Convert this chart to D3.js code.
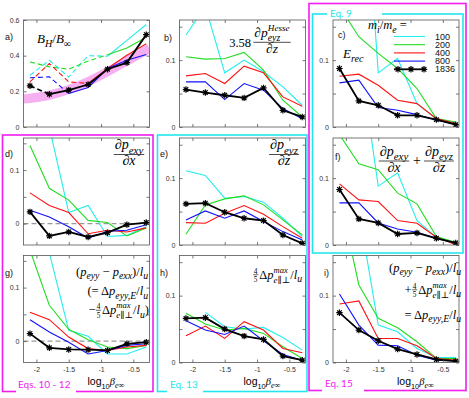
<!DOCTYPE html>
<html>
<head>
<style>
body { margin: 0; background: #fff; }
svg { display: block; }
svg text { white-space: pre; }
</style>
</head>
<body>
<svg id="chart" width="469" height="398"></svg>
<script src="https://d3js.org/d3.v7.min.js"></script>
<script>
// x values: log10(beta_e_inf) for beta = 0.008 ... 0.512
var logBeta = [-2.1, -1.8, -1.5, -1.2, -0.9, -0.6, -0.3];
var massRatios = ['100', '200', '400', '800', '1836'];
var seriesColors = ['#22eeee', '#22dd22', '#ff1111', '#1111ff', '#000000'];

// each panel: rows = 100, 200, 400, 800, 1836
var bhRatio = [
    [0.29, 0.374, 0.28, 0.40, 0.397, 0.486, 0.575],
    [0.365, 0.337, 0.324, 0.37, 0.405, 0.443, 0.503],
    [0.253, 0.356, 0.253, 0.244, 0.328, 0.402, 0.467],
    [0.276, 0.281, 0.188, 0.222, 0.328, 0.374, 0.406],
    [0.231, 0.184, 0.207, 0.238, 0.324, 0.361, 0.518]
];
var dashedUntil = [4, 4, 3, 2, 1];   // panel a: dashed up to this point index
var bandX = [-2.2, -1.8, -1.5, -1.2, -0.9, -0.6, -0.25];
var bandY = [0.157, 0.178, 0.21, 0.255, 0.31, 0.37, 0.44];

var hesseTerm = [
    [0.1375, 0.18, 0.081, 0.1, 0.0825, 0.06, 0.0325],
    [0.105, 0.1015, 0.1025, 0.1115, 0.085, 0.04, 0.015],
    [0.0765, 0.08, 0.065, 0.091, 0.081, 0.045, 0.031],
    [0.0675, 0.0675, 0.041, 0.065, 0.055, 0.0275, 0.0125],
    [0.056, 0.0515, 0.0475, 0.0435, 0.0585, 0.025, 0.015]
];
var eRec = [
    [0.45, 0.5, 0.081, 0.1025, 0.035, 0.0125, 0.006],
    [0.18, 0.135, 0.11, 0.0875, 0.0575, 0.0125, 0.0075],
    [0.076, 0.079, 0.0625, 0.04, 0.035, 0.0125, 0.005],
    [0.066, 0.07, 0.029, 0.025, 0.0185, 0.01, 0.004],
    [0.0875, 0.039, 0.0325, 0.0175, 0.0175, 0.011, 0.0035]
];
var dPexyDx = [
    [0.3, 0.18, 0.0206, 0.034, -0.024, -0.022, -0.006],
    [0.146, 0.066, 0.044, 0.006, 0.002, -0.023, -0.008],
    [0.0575, 0.034, 0.0206, -0.019, -0.0125, -0.0156, -0.008],
    [0.025, 0.0125, -0.006, -0.027, -0.0144, -0.0125, -0.002],
    [0.022, -0.023, -0.0156, -0.025, -0.017, -0.002, 0.002]
];
var dPeyzDz = [
    [0.111, 0.104, 0.07, 0.0725, 0.064, 0.04, 0.0125],
    [0.016, 0.06, 0.069, 0.0735, 0.06, 0.0375, 0.015],
    [0.0335, 0.0325, 0.0475, 0.059, 0.046, 0.0275, 0.01],
    [0.0375, 0.051, 0.04, 0.051, 0.035, 0.02, 0.0075],
    [0.0615, 0.0625, 0.049, 0.04, 0.0365, 0.015, 0.0025]
];
var divSum = [
    [0.35, 0.29, 0.088, 0.108, 0.0365, 0.0115, 0.0015],
    [0.165, 0.1215, 0.1125, 0.0775, 0.0615, 0.0125, 0.004],
    [0.0915, 0.0675, 0.065, 0.0365, 0.0325, 0.0115, 0.0005],
    [0.063, 0.063, 0.033, 0.024, 0.019, 0.01, 0.003],
    [0.083, 0.039, 0.033, 0.0165, 0.018, 0.01, 0.003]
];
var anisoDiff = [
    [0.3, 0.165, 0.02, 0.009, -0.024, -0.024, -0.011],
    [0.17, 0.067, 0.022, 0.0025, -0.011, -0.014, -0.008],
    [0.054, 0.04, 0.0075, -0.014, -0.0175, -0.011, -0.008],
    [0.04, 0.017, -0.002, -0.024, -0.0175, -0.008, -0.005],
    [0.014, -0.0125, -0.0156, -0.016, -0.0175, -0.005, -0.002]
];
var maxAniso = [
    [null, 0.075, 0.0535, 0.05, 0.0525, 0.0375, 0.0185],
    [0.0735, 0.0575, 0.0485, 0.051, 0.0435, 0.0235, 0.006],
    [0.04, 0.0545, 0.036, 0.061, 0.0485, 0.021, 0.0145],
    [0.0625, 0.0485, 0.042, 0.0545, 0.0325, 0.012, 0.0035],
    [0.066, 0.067, 0.05, 0.0395, 0.0345, 0.0095, 0.0035]
];
var pressureE = [
    [0.3, 0.227, 0.056, 0.046, 0.021, 0.0075, 0.0075],
    [0.25, 0.116, 0.066, 0.052, 0.031, 0.006, 0.006],
    [0.0875, 0.092, 0.036, 0.036, 0.025, 0.006, 0.0035],
    [0.1025, 0.056, 0.026, 0.025, 0.011, 0.0035, 0.0025],
    [0.0745, 0.0485, 0.0325, 0.02, 0.012, 0.0045, 0.002]
];

var xTicks = [-2, -1.5, -1, -0.5];
var xTickLabels = ['-2', '-1.5', '-1', '-0.5'];
var yTicksA = [0, 0.2, 0.4, 0.6];
var yTickLabelsA = ['0', '0.2', '0.4', '0.6'];
var yTicksS = [0, 0.05, 0.1, 0.15];
var yTickLabelsS = ['0', '', '0.1', ''];

//layout
var svg = d3.select('#chart');
var W = 126, H = 107;
var colLeft = [23.5, 179.5, 333];
var rowTop = [20, 138, 255.5];
var xDomain = [-2.2, -0.25];
var SANS = '"Liberation Sans", Arial, sans-serif';
var SERIF = '"Liberation Serif", "DejaVu Serif", serif';
var PINK = '#f01cf0', CYAN = '#22e6ee';
var starPath = 'M-3.2,0H3.2M0,-3.2V3.2M-2.3,-2.3L2.3,2.3M-2.3,2.3L2.3,-2.3';

var panels = [
    {key: 'a', vals: bhRatio, col: 0, row: 0, yDom: [0, 0.6], yt: yTicksA, yl: yTickLabelsA, letter: [5, 40]},
    {key: 'b', vals: hesseTerm, col: 1, row: 0, yDom: [0, 0.16], yt: yTicksS, yl: yTickLabelsS, letter: [164, 41]},
    {key: 'c', vals: eRec, col: 2, row: 0, yDom: [0, 0.16], yt: yTicksS, yl: yTickLabelsS, letter: [338, 38]},
    {key: 'd', vals: dPexyDx, col: 0, row: 1, yDom: [-0.04, 0.16], yt: yTicksS, yl: yTickLabelsS, letter: [5, 157], zero: true},
    {key: 'e', vals: dPeyzDz, col: 1, row: 1, yDom: [0, 0.16], yt: yTicksS, yl: yTickLabelsS, letter: [160, 157]},
    {key: 'f', vals: divSum, col: 2, row: 1, yDom: [0, 0.16], yt: yTicksS, yl: yTickLabelsS, letter: [335, 160]},
    {key: 'g', vals: anisoDiff, col: 0, row: 2, yDom: [-0.04, 0.16], yt: yTicksS, yl: yTickLabelsS, letter: [5, 276], zero: true},
    {key: 'h', vals: maxAniso, col: 1, row: 2, yDom: [0, 0.16], yt: yTicksS, yl: yTickLabelsS, letter: [160, 276]},
    {key: 'i', vals: pressureE, col: 2, row: 2, yDom: [0, 0.16], yt: yTicksS, yl: yTickLabelsS, letter: [324, 276]}
];

var defs = svg.append('defs');

panels.forEach(function(p) {
    var left = colLeft[p.col], top = rowTop[p.row];
    var x = d3.scaleLinear().domain(xDomain).range([left, left + W]);
    var y = d3.scaleLinear().domain(p.yDom).range([top + H, top]);
    var g = svg.append('g').attr('class', 'panel-' + p.key);

    defs.append('clipPath').attr('id', 'clip-' + p.key)
        .append('rect').attr('x', left).attr('y', top).attr('width', W).attr('height', H);
    var plot = g.append('g').attr('clip-path', 'url(#clip-' + p.key + ')');

    var line = d3.line()
        .defined(function(d) { return d[1] != null; })
        .x(function(d) { return x(d[0]); })
        .y(function(d) { return y(d[1]); });

    if (p.key == 'a') {
        plot.append('path')
            .datum(d3.zip(bandX, bandY))
            .attr('d', d3.line().x(function(d) { return x(d[0]); }).y(function(d) { return y(d[1]); }).curve(d3.curveMonotoneX))
            .attr('fill', 'none').attr('stroke', '#f5a6f0').attr('stroke-width', 9).attr('opacity', 0.9);
    }
    if (p.zero) {
        plot.append('line')
            .attr('x1', left).attr('x2', left + W).attr('y1', y(0)).attr('y2', y(0))
            .attr('stroke', '#999').attr('stroke-width', 1.3).attr('stroke-dasharray', '5,3');
    }

    p.vals.forEach(function(vals, i) {
        var pts = logBeta.map(function(b, j) { return [b, vals[j]]; });
        var isBlack = i == 4;
        var sw = isBlack ? 1.8 : 1.1;
        if (p.key == 'a') {
            var k = dashedUntil[i];
            plot.append('path').datum(pts.slice(0, k + 1)).attr('d', line)
                .attr('fill', 'none').attr('stroke', seriesColors[i]).attr('stroke-width', sw)
                .attr('stroke-dasharray', '5,3');
            plot.append('path').datum(pts.slice(k)).attr('d', line)
                .attr('fill', 'none').attr('stroke', seriesColors[i]).attr('stroke-width', sw);
        } else {
            plot.append('path').datum(pts).attr('d', line)
                .attr('fill', 'none').attr('stroke', seriesColors[i]).attr('stroke-width', sw);
        }
        if (isBlack) {
            plot.selectAll('path.star')
                .data(pts.filter(function(d) { return d[1] != null; }))
                .join('path').attr('class', 'star')
                .attr('transform', function(d) { return 'translate(' + x(d[0]) + ',' + y(d[1]) + ')'; })
                .attr('d', starPath).attr('stroke', '#000').attr('stroke-width', 1.2).attr('fill', 'none');
        }
    });

    // axes, ticks pointing inward
    var ax = [
        g.append('g').attr('transform', 'translate(' + left + ',0)')
            .call(d3.axisLeft(y).tickValues(p.yt).tickSize(-3).tickPadding(4)
                .tickFormat(function(d, i) { return p.yl[i]; })),
        g.append('g').attr('transform', 'translate(' + (left + W) + ',0)')
            .call(d3.axisRight(y).tickValues(p.yt).tickSize(-3).tickFormat('')),
        g.append('g').attr('transform', 'translate(0,' + top + ')')
            .call(d3.axisTop(x).tickValues(xTicks).tickSize(-3).tickFormat('')),
        g.append('g').attr('transform', 'translate(0,' + (top + H) + ')')
            .call(d3.axisBottom(x).tickValues(xTicks).tickSize(-3).tickPadding(5)
                .tickFormat(function(d, i) { return p.row == 2 ? xTickLabels[i] : ''; }))
    ];
    ax.forEach(function(a) {
        a.select('.domain').remove();
        a.selectAll('line').attr('stroke', '#555').attr('stroke-width', 0.8);
        a.selectAll('text').attr('font-family', SANS).attr('font-size', 7).attr('fill', '#333');
    });

    g.append('rect').attr('x', left).attr('y', top).attr('width', W).attr('height', H)
        .attr('fill', 'none').attr('stroke', '#555').attr('stroke-width', 0.8);

    g.append('text').attr('x', p.letter[0]).attr('y', p.letter[1])
        .attr('font-family', SANS).attr('font-size', 9).attr('fill', '#111').text(p.key + ')');

    if (p.row == 2) {
        mathRow(g, left + W / 2 + 1, 385, [['log', 'sans'], ['10', 'ssub'], ['\u03b2', 'i'], ['e\u221e', 'sub']], 'start', 10.5);
    }
});

// math text helper: parts [string, kind]
function mathRow(parent, x, y, parts, anchor, fs) {
    var grp = parent.append('g');
    var cx = 0;
    function put(s, px, dy, size, italic, fam) {
        var t = grp.append('text').attr('x', px).attr('y', dy)
            .attr('font-family', fam || SERIF).attr('font-size', size)
            .attr('font-style', italic ? 'italic' : 'normal').attr('fill', '#000').text(s);
        return t;
    }
    function w(t) { return t.node().getComputedTextLength(); }
    parts.forEach(function(pt) {
        var s = pt[0], k = pt[1];
        if (k == 'i' || k == 'r') cx += w(put(s, cx, 0, fs, k == 'i'));
        else if (k == 'sans') cx += w(put(s, cx, 0, fs, false, SANS));
        else if (k == 'ssub') cx += w(put(s, cx, fs * 0.35, fs * 0.7, false, SANS));
        else if (k == 'sub') cx += w(put(s, cx, fs * 0.3, fs * 0.78, true));
        else if (k == 'subr') cx += w(put(s, cx, fs * 0.3, fs * 0.78, false));
        else if (k == 'sup') cx += w(put(s, cx, -fs * 0.42, fs * 0.72, true));
        else if (k == 'ss') {
            var a = w(put(s[0], cx, -fs * 0.45, fs * 0.68, true));
            var b = w(put(s[1], cx, fs * 0.32, fs * 0.72, true));
            cx += Math.max(a, b);
        } else if (k == 'frac') {
            var fz = fs * 0.58;
            var tn = put(s[0], 0, -fs * 0.38, fz, false), td = put(s[1], 0, fs * 0.28, fz, false);
            var fw = Math.max(w(tn), w(td)) + 1.5;
            tn.attr('x', cx + 0.5 + (fw - w(tn)) / 2);
            td.attr('x', cx + 0.5 + (fw - w(td)) / 2);
            grp.append('line').attr('x1', cx + 0.5).attr('x2', cx + 0.5 + fw)
                .attr('y1', -fs * 0.3).attr('y2', -fs * 0.3).attr('stroke', '#000').attr('stroke-width', 0.6);
            cx += fw + 1.5;
        } else if (k == 'sp') cx += s;
    });
    var shift = anchor == 'middle' ? cx / 2 : (anchor == 'end' ? cx : 0);
    grp.attr('transform', 'translate(' + (x - shift) + ',' + y + ')');
    return cx;
}
function fracBlock(parent, cx, barY, num, den, fs) {
    var wn = mathRow(parent, cx, barY - 5.2, num, 'middle', fs);
    var wd = mathRow(parent, cx, barY + fs * 0.78, den, 'middle', fs);
    var bw = Math.max(wn, wd) + 2;
    parent.append('line').attr('x1', cx - bw / 2).attr('x2', cx + bw / 2)
        .attr('y1', barY).attr('y2', barY).attr('stroke', '#000').attr('stroke-width', 0.7);
}

// panel annotations
var ann = svg.append('g');
var MINUS = ' \u2212 ';
mathRow(ann, 37, 43, [['B', 'i'], ['H', 'sub'], ['/', 'r'], ['B', 'i'], ['\u221e', 'subr']], 'start', 13);
mathRow(ann, 251, 47, [['3.58', 'r']], 'end', 12.5);
fracBlock(ann, 272, 42.3, [['\u2202', 'i'], ['p', 'i'], [['Hesse', 'eyz'], 'ss']], [['\u2202', 'i'], ['z', 'i']], 13.5);
mathRow(ann, 343, 58, [['E', 'i'], ['rec', 'sub']], 'start', 13);
fracBlock(ann, 129, 154.5, [['\u2202', 'i'], ['p', 'i'], ['exy', 'sub']], [['\u2202', 'i'], ['x', 'i']], 14);
fracBlock(ann, 284, 154.5, [['\u2202', 'i'], ['p', 'i'], ['eyz', 'sub']], [['\u2202', 'i'], ['z', 'i']], 14);
fracBlock(ann, 394, 161, [['\u2202', 'i'], ['p', 'i'], ['exy', 'sub']], [['\u2202', 'i'], ['x', 'i']], 14);
mathRow(ann, 417, 165, [['+', 'r']], 'middle', 14);
fracBlock(ann, 439, 161, [['\u2202', 'i'], ['p', 'i'], ['eyz', 'sub']], [['\u2202', 'i'], ['z', 'i']], 14);

mathRow(ann, 148, 275.5, [['(', 'r'], ['p', 'i'], ['eyy', 'sub'], [MINUS, 'r'], ['p', 'i'], ['exx', 'sub'], [')/', 'r'], ['l', 'i'], ['u', 'sub']], 'end', 12.5);
mathRow(ann, 148, 295, [['(= \u0394', 'r'], ['p', 'i'], ['eyy,E', 'sub'], ['/', 'r'], ['l', 'i'], ['u', 'sub']], 'end', 12.5);
mathRow(ann, 149, 314, [['\u2212', 'r'], [['4', '5'], 'frac'], ['\u0394', 'r'], ['p', 'i'], [['max', 'e\u2225\u22a5'], 'ss'], ['/', 'r'], ['l', 'i'], ['u', 'sub'], [')', 'r']], 'end', 12.5);
mathRow(ann, 302, 278.5, [[['4', '5'], 'frac'], ['\u0394', 'r'], ['p', 'i'], [['max', 'e\u2225\u22a5'], 'ss'], ['/', 'r'], ['l', 'i'], ['u', 'sub']], 'end', 12.5);
mathRow(ann, 461, 271.5, [['(', 'r'], ['p', 'i'], ['eyy', 'sub'], [MINUS, 'r'], ['p', 'i'], ['exx', 'sub'], [')/', 'r'], ['l', 'i'], ['u', 'sub']], 'end', 12.5);
mathRow(ann, 461, 293.5, [['+', 'r'], [['4', '5'], 'frac'], ['\u0394', 'r'], ['p', 'i'], [['max', 'e\u2225\u22a5'], 'ss'], ['/', 'r'], ['l', 'i'], ['u', 'sub']], 'end', 12.5);
mathRow(ann, 461, 318.5, [['= \u0394', 'r'], ['p', 'i'], ['eyy,E', 'sub'], ['/', 'r'], ['l', 'i'], ['u', 'sub']], 'end', 12.5);

// legend (panel c)
mathRow(ann, 368, 29, [['m', 'i'], ['i', 'sub'], ['/', 'r'], ['m', 'i'], ['e', 'sub'], [' =', 'r']], 'start', 12.5);
var legY = d3.scalePoint().domain(massRatios).range([36.5, 69.3]);
var leg = ann.selectAll('g.leg').data(massRatios).join('g').attr('class', 'leg');
leg.append('line').attr('x1', 394).attr('x2', 425)
    .attr('y1', function(d) { return legY(d); }).attr('y2', function(d) { return legY(d); })
    .attr('stroke', function(d, i) { return seriesColors[i]; })
    .attr('stroke-width', function(d, i) { return i == 4 ? 1.8 : 1.1; });
leg.append('text').attr('x', 435).attr('y', function(d) { return legY(d) + 3; })
    .attr('font-family', SANS).attr('font-size', 9).attr('fill', '#111').text(function(d) { return d; });
ann.selectAll('path.legstar').data([398, 411, 424]).join('path').attr('class', 'legstar')
    .attr('transform', function(d) { return 'translate(' + d + ',' + legY('1836') + ')'; })
    .attr('d', starPath).attr('stroke', '#000').attr('stroke-width', 1.2);

// equation frames
var frames = [
    {x0: 309, y0: 3.5, x1: 466, y1: 390.5, color: PINK, label: 'Eq. 15', lx: 325, gap: [322, 364], side: 'bottom'},
    {x0: 312.5, y0: 14, x1: 463, y1: 253, color: CYAN, label: 'Eq. 9', lx: 330, gap: [327, 382], side: 'top'},
    {x0: 2.5, y0: 135, x1: 153, y1: 391.5, color: PINK, label: 'Eqs. 10 - 12', lx: 18, gap: [16, 76], side: 'bottom'},
    {x0: 157.5, y0: 135, x1: 307, y1: 391.5, color: CYAN, label: 'Eq. 13', lx: 170, gap: [167, 203], side: 'bottom'}
];
frames.forEach(function(f) {
    var fg = svg.append('g');
    fg.append('rect').attr('x', f.x0).attr('y', f.y0).attr('width', f.x1 - f.x0).attr('height', f.y1 - f.y0)
        .attr('fill', 'none').attr('stroke', f.color).attr('stroke-width', 1.6);
    var ly = f.side == 'top' ? f.y0 : f.y1;
    fg.append('rect').attr('x', f.gap[0]).attr('y', ly - 2).attr('width', f.gap[1] - f.gap[0]).attr('height', 4).attr('fill', '#fff');
    fg.append('text').attr('x', f.lx).attr('y', f.side == 'top' ? ly + 3.3 : ly - 3.5)
        .attr('font-family', 'Lato, "Open Sans", sans-serif').attr('font-size', 10).attr('fill', f.color).text(f.label);
});
</script>
</body>
</html>
